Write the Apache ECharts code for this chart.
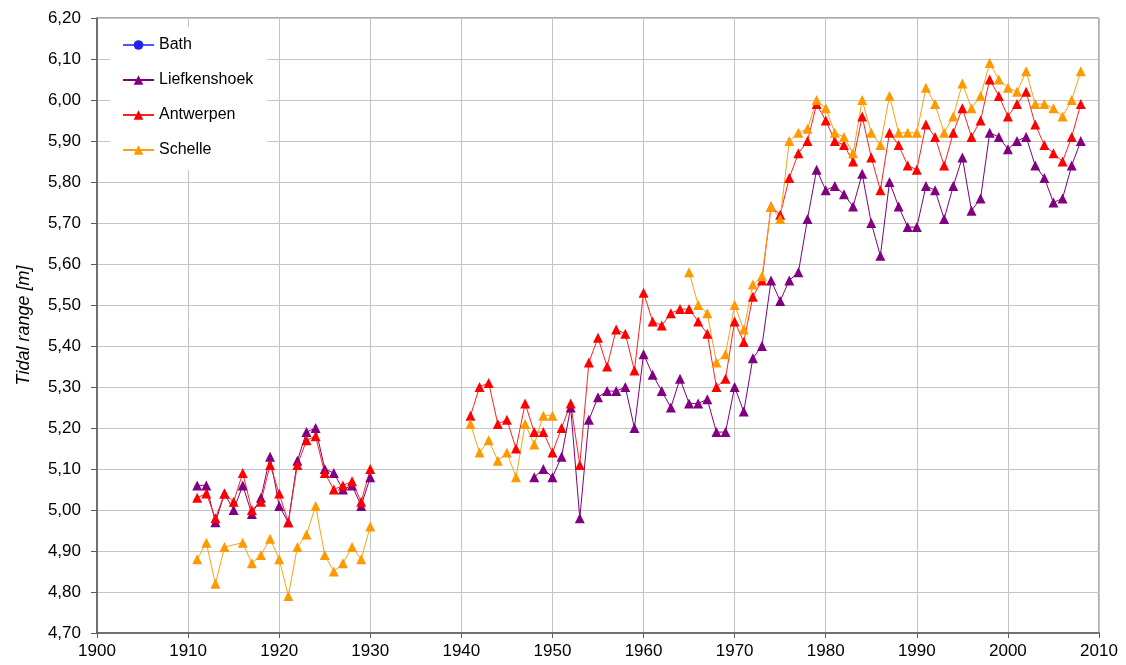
<!DOCTYPE html>
<html>
<head>
<meta charset="utf-8">
<script src="https://cdn.jsdelivr.net/npm/echarts@6/dist/echarts.min.js"></script>
<style>html,body{margin:0;padding:0;background:#fff;}#c{width:1126px;height:665px;}</style>
</head>
<body>
<div id="c"></div>
<script>
// Years 1911..2008
const years = [];
for (let y = 1911; y <= 2008; y++) years.push(y);

const N10 = [null,null,null,null,null,null,null,null,null,null];

const bath = [];

const liefkenshoek = [
  5.06,5.06,4.97,5.04,5.00,5.06,4.99,5.03,5.13,5.01,4.97,5.12,5.19,5.20,5.10,5.09,5.05,5.06,5.01,5.08,
  ...N10,
  null,null,null,null,null,null,null,
  5.08,5.10,5.08,5.13,5.25,4.98,5.22,5.275,5.29,5.29,5.30,5.20,5.38,
  5.33,5.29,5.25,5.32,5.26,5.26,5.27,5.19,5.19,5.30,
  5.24,5.37,5.40,5.56,5.51,5.56,5.58,5.71,5.83,5.78,
  5.79,5.77,5.74,5.82,5.70,5.62,5.80,5.74,5.69,5.69,
  5.79,5.78,5.71,5.79,5.86,5.73,5.76,5.92,5.91,5.88,
  5.90,5.91,5.84,5.81,5.75,5.76,5.84,5.90
];

const antwerpen = [
  5.03,5.04,4.98,5.04,5.02,5.09,5.00,5.02,5.11,5.04,4.97,5.11,5.17,5.18,5.09,5.05,5.06,5.07,5.02,5.10,
  ...N10,
  5.23,5.30,5.31,5.21,5.22,5.15,5.26,5.19,5.19,5.14,
  5.20,5.26,5.11,5.36,5.42,5.35,5.44,5.43,5.34,5.53,
  5.46,5.45,5.48,5.49,5.49,5.46,5.43,5.30,5.32,5.46,
  5.41,5.52,5.56,5.74,5.72,5.81,5.87,5.90,5.99,5.95,
  5.90,5.89,5.85,5.96,5.86,5.78,5.92,5.89,5.84,5.83,
  5.94,5.91,5.84,5.92,5.98,5.91,5.95,6.05,6.01,5.96,
  5.99,6.02,5.94,5.89,5.87,5.85,5.91,5.99
];

const schelle = [
  4.88,4.92,4.82,4.91,null,4.92,4.87,4.89,4.93,4.88,4.79,4.91,4.94,5.01,4.89,4.85,4.87,4.91,4.88,4.96,
  ...N10,
  5.21,5.14,5.17,5.12,5.14,5.08,5.21,5.16,5.23,5.23,
  null,null,null,null,null,null,null,null,null,null,null,null,null,null,
  5.58,5.50,5.48,5.36,5.38,5.50,
  5.44,5.55,5.57,5.74,5.71,5.90,5.92,5.93,6.00,5.98,
  5.92,5.91,5.87,6.00,5.92,5.89,6.01,5.92,5.92,5.92,
  6.03,5.99,5.92,5.96,6.04,5.98,6.01,6.09,6.05,6.03,
  6.02,6.07,5.99,5.99,5.98,5.96,6.00,6.07
];

const xTicks = { min: 1900, max: 2010, interval: 10 };
const yTicks = { min: 4.7, max: 6.2, interval: 0.1 };

// Build [year, value] pairs; single missing years are bridged, longer gaps break the line
function toPairs(vals) {
  const out = [];
  let last = null;
  vals.forEach((v, i) => {
    if (v === null || v === undefined) return;
    const yr = years[i];
    if (last !== null && yr - last > 2) out.push([(yr + last) / 2, '-']);
    out.push([yr, v]);
    last = yr;
  });
  return out;
}

function mk(name, vals, color, lineColor, symbol) {
  return {
    name, type: 'line', data: toPairs(vals),
    symbol, symbolSize: symbol === 'triangle' ? 10 : 8,
    showSymbol: true, connectNulls: false,
    lineStyle: { color: lineColor, width: 1 },
    itemStyle: { color: color, borderWidth: 0 },
    emphasis: { disabled: true },
    animation: false
  };
}

const chart = echarts.init(document.getElementById('c'), null, { renderer: 'canvas' });
chart.setOption({
  backgroundColor: '#ffffff',
  animation: false,
  textStyle: { fontFamily: '"Liberation Sans", Arial, sans-serif' },
  grid: { left: 97, right: 27, top: 18, bottom: 32, show: true, borderColor: '#5a5a5a', borderWidth: 1, backgroundColor: 'transparent' },
  legend: {
    orient: 'vertical', left: 110, top: 27,
    padding: [10, 14, 12, 12],
    itemWidth: 31, itemHeight: 12, itemGap: 19,
    backgroundColor: '#ffffff',
    textStyle: { fontSize: 16, color: '#000', fontFamily: '"Liberation Sans", Arial, sans-serif' },
    data: ['Bath', 'Liefkenshoek', 'Antwerpen', 'Schelle']
  },
  xAxis: {
    type: 'value', min: xTicks.min, max: xTicks.max, interval: xTicks.interval,
    axisLine: { show: true, onZero: false, lineStyle: { color: '#5a5a5a', width: 1.5 } },
    axisTick: { show: true, length: 5, lineStyle: { color: '#5a5a5a' } },
    axisLabel: { fontSize: 17, color: '#000', margin: 10, formatter: v => String(v) },
    splitLine: { show: true, lineStyle: { color: '#c4c4c4', width: 1 } }
  },
  yAxis: {
    type: 'value', min: yTicks.min, max: yTicks.max, interval: yTicks.interval,
    name: 'Tidal range [m]', nameLocation: 'middle', nameGap: 64,
    nameTextStyle: { fontSize: 18, fontStyle: 'italic', color: '#000' },
    axisLine: { show: true, onZero: false, lineStyle: { color: '#5a5a5a', width: 1.5 } },
    axisTick: { show: true, length: 6, lineStyle: { color: '#5a5a5a' } },
    axisLabel: { fontSize: 17, color: '#000', margin: 16, formatter: v => v.toFixed(2).replace('.', ',') },
    splitLine: { show: true, lineStyle: { color: '#c4c4c4', width: 1 } }
  },
  series: [
    mk('Bath', bath, '#2222ee', '#5555ff', 'circle'),
    mk('Liefkenshoek', liefkenshoek, '#800080', '#800080', 'triangle'),
    mk('Antwerpen', antwerpen, '#ff0000', '#ff2020', 'triangle'),
    mk('Schelle', schelle, '#ff9900', '#ffa010', 'triangle')
  ]
});
</script>
</body>
</html>
